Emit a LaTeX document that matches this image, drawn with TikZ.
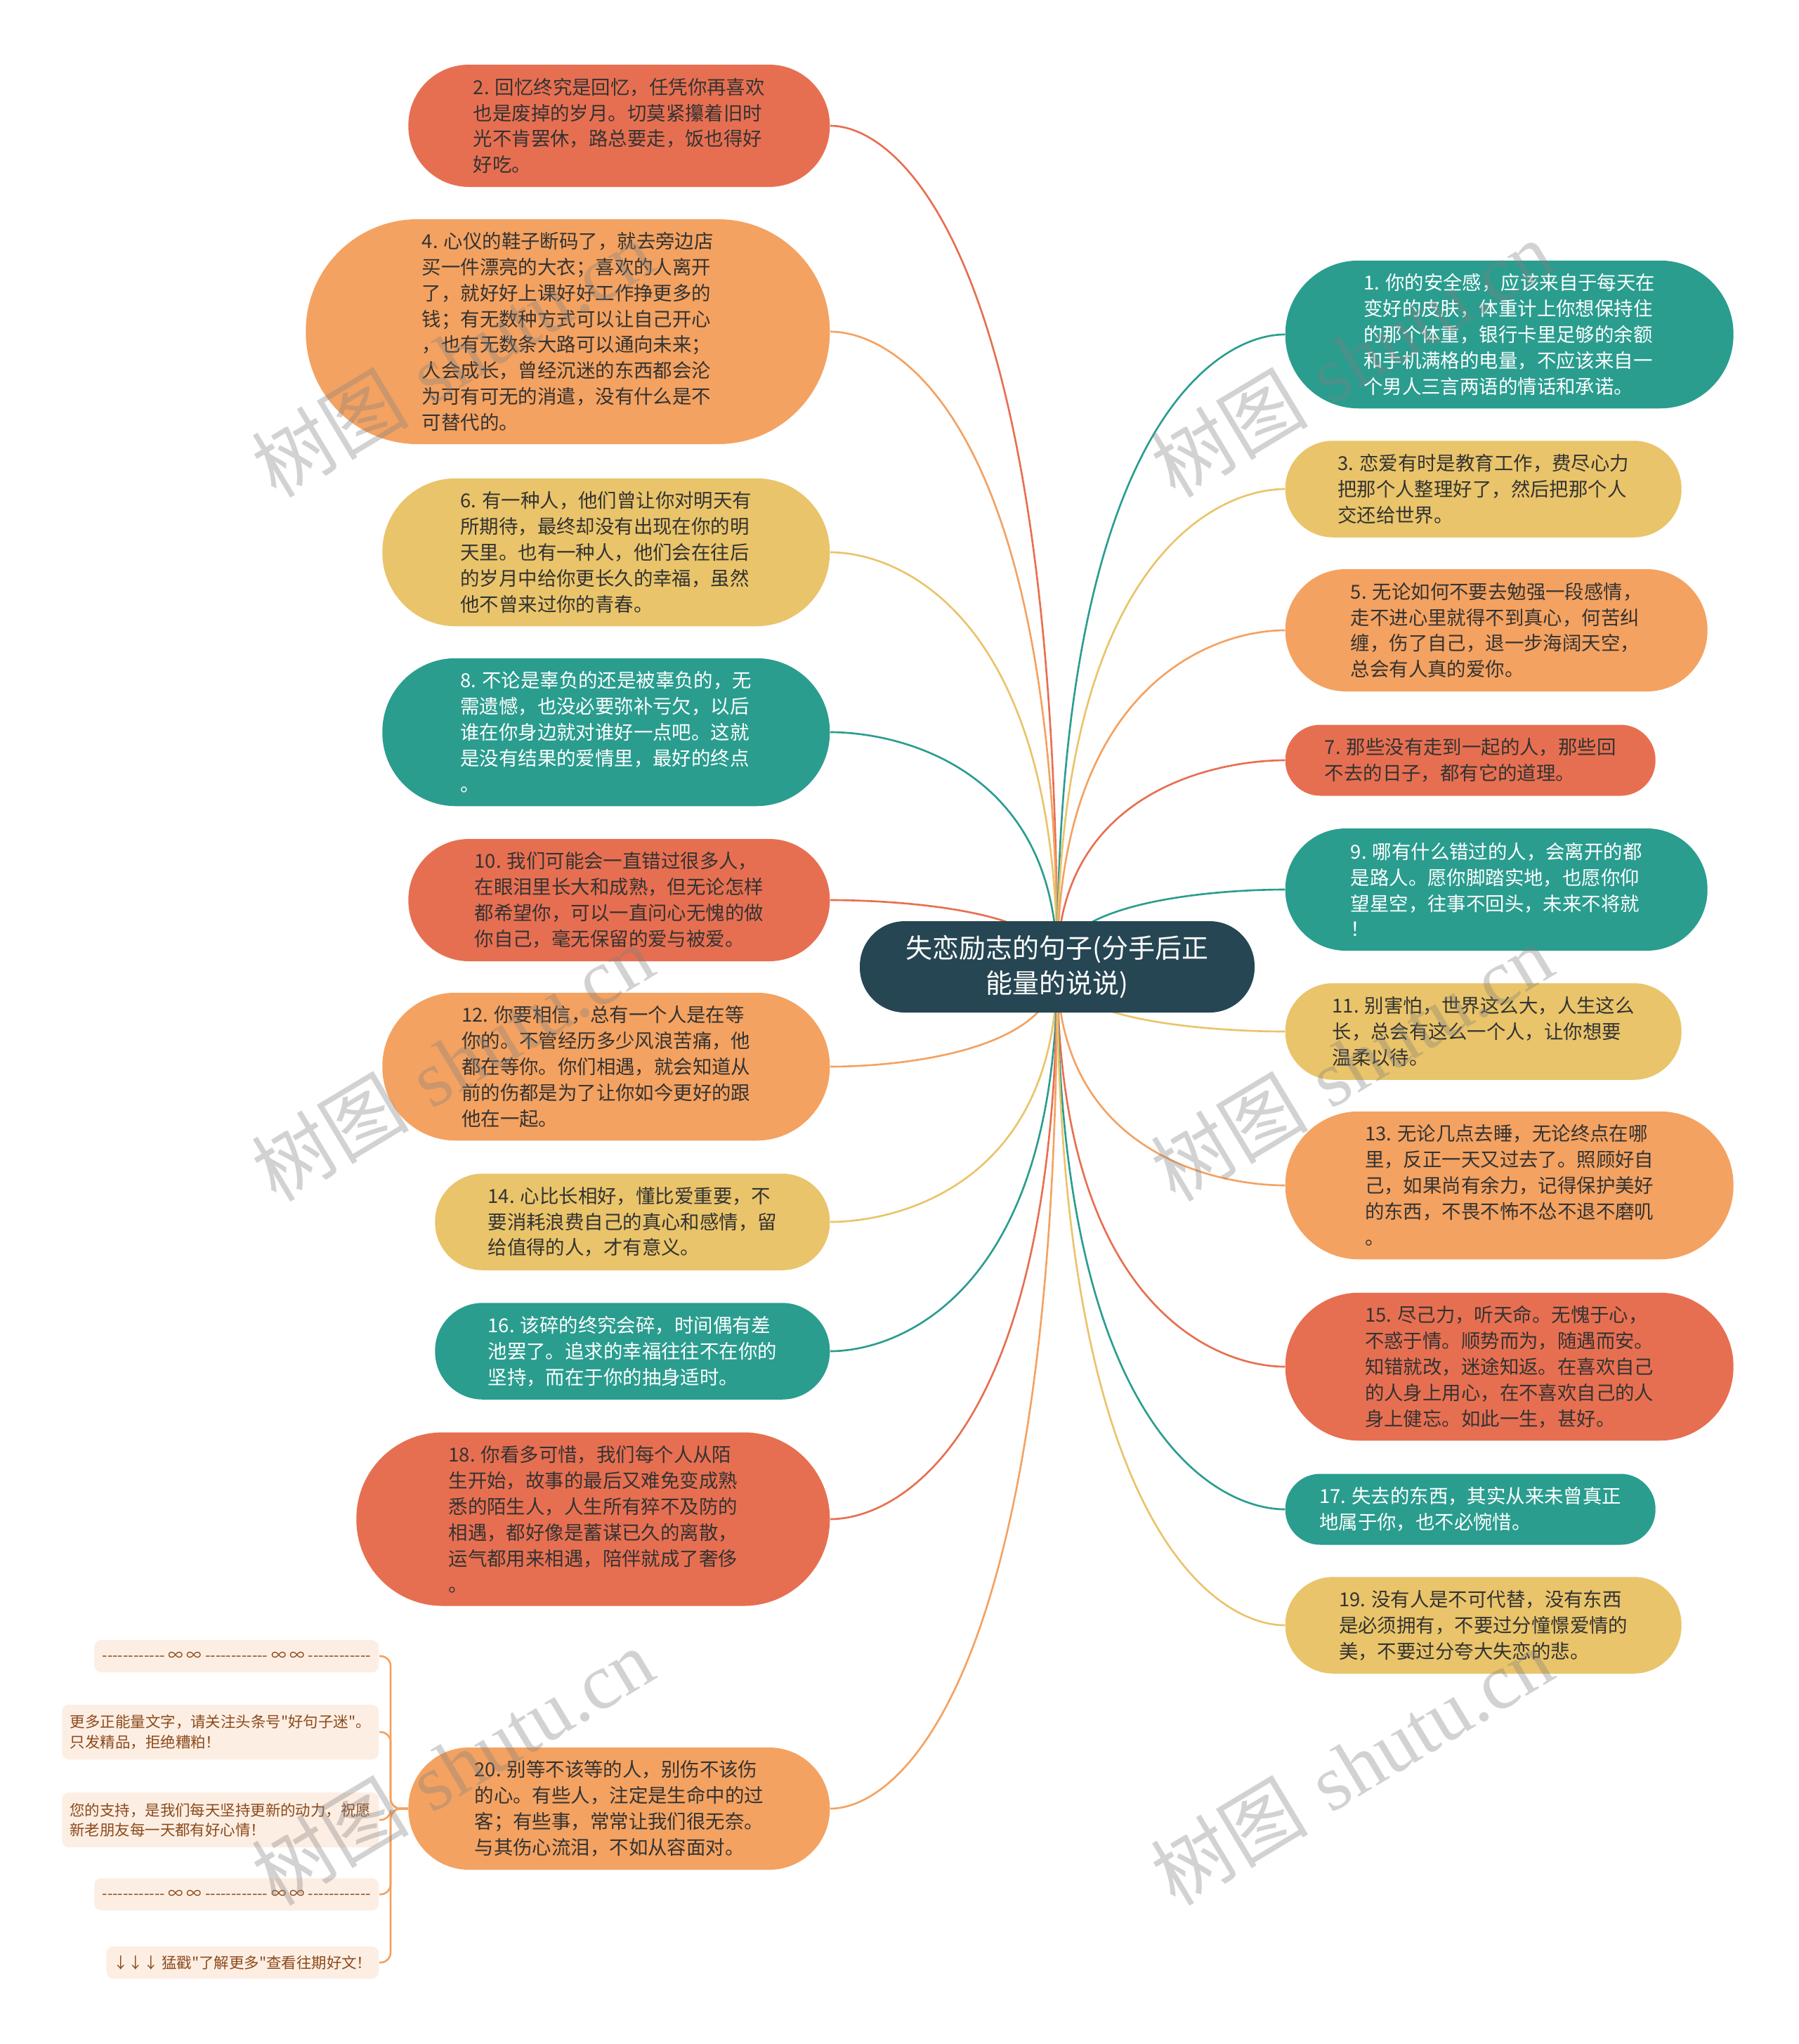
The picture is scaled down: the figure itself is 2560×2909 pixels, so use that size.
\documentclass[tikz,border=0pt]{standalone}
\usepackage{fontspec}
\newfontfamily\cjk{Noto Sans CJK SC}
\newfontfamily\wmlatin{Liberation Serif}
\usetikzlibrary{calc,backgrounds}

\definecolor{cRed}{HTML}{E76F51}
\definecolor{cOrange}{HTML}{F4A261}
\definecolor{cYellow}{HTML}{E9C46A}
\definecolor{cTeal}{HTML}{2A9D8F}
\definecolor{cRoot}{HTML}{264653}
\definecolor{ink}{HTML}{333333}
\definecolor{peach}{HTML}{FDEEE3}
\definecolor{umber}{HTML}{8B4A1C}

\begin{document}
\begin{tikzpicture}[x=0.1mm, y=-0.1mm,
    leaf/.style={font=\cjk\fontsize{7.8}{10.5}\selectfont, text=ink, align=left, inner sep=0pt},
    nlines/.style={minimum height={(#1*36.5+28)*0.1mm}, rounded corners={(#1*36.5+28)*0.05mm-0.2pt}},
    branch/.style={draw=#1, line width=0.75pt,
        to path={.. controls ($(\tikztostart)!0.3!(\tikztotarget |- \tikztostart)$)
                 and ($(\tikztotarget)!0.85!(\tikztotarget |- \tikztostart)$) .. (\tikztotarget)}},
    tip/.style={fill=peach, text=umber, font=\cjk\fontsize{6.1}{8}\selectfont, align=left,
        rounded corners=1mm, anchor=east, inner sep=0pt},
    twig/.style={draw=cOrange, line width=0.75pt, rounded corners=1.4mm},
    wmark/.style={font=\fontsize{32}{36}\selectfont, text=gray, text opacity=0.35, rotate=31}]
    \useasboundingbox (0,0) rectangle (2560,2909);

    % centre
    \node[fill=cRoot, text=white, font=\cjk\fontsize{10.8}{14.2}\selectfont, align=center,
        minimum width=56.2mm, minimum height=13mm, rounded corners=6.4mm] (root) at (1505,1376)
        {失恋励志的句子(分手后正\\能量的说说)};

    % left column
    \node[leaf, fill=cRed, nlines=4, minimum width=60mm, anchor=east] (n2) at (1182,179)
        {2. 回忆终究是回忆，任凭你再喜欢\\也是废掉的岁月。切莫紧攥着旧时\\光不肯罢休，路总要走，饭也得好\\好吃。};
    \node[leaf, fill=cOrange, nlines=8, minimum width=74.6mm, anchor=east] (n4) at (1182,472)
        {4. 心仪的鞋子断码了，就去旁边店\\买一件漂亮的大衣；喜欢的人离开\\了，就好好上课好好工作挣更多的\\钱；有无数种方式可以让自己开心\\，也有无数条大路可以通向未来；\\人会成长，曾经沉迷的东西都会沦\\为可有可无的消遣，没有什么是不\\可替代的。};
    \node[leaf, fill=cYellow, nlines=5, minimum width=63.7mm, anchor=east] (n6) at (1182,786)
        {6. 有一种人，他们曾让你对明天有\\所期待，最终却没有出现在你的明\\天里。也有一种人，他们会在往后\\的岁月中给你更长久的幸福，虽然\\他不曾来过你的青春。};
    \node[leaf, fill=cTeal, text=white, nlines=5, minimum width=63.7mm, anchor=east] (n8) at (1182,1042)
        {8. 不论是辜负的还是被辜负的，无\\需遗憾，也没必要弥补亏欠，以后\\谁在你身边就对谁好一点吧。这就\\是没有结果的爱情里，最好的终点\\。};
    \node[leaf, fill=cRed, nlines=4, minimum width=60mm, anchor=east] (n10) at (1182,1281)
        {10. 我们可能会一直错过很多人，\\在眼泪里长大和成熟，但无论怎样\\都希望你，可以一直问心无愧的做\\你自己，毫无保留的爱与被爱。};
    \node[leaf, fill=cOrange, nlines=5, minimum width=63.7mm, anchor=east] (n12) at (1182,1518)
        {12. 你要相信，总有一个人是在等\\你的。不管经历多少风浪苦痛，他\\都在等你。你们相遇，就会知道从\\前的伤都是为了让你如今更好的跟\\他在一起。};
    \node[leaf, fill=cYellow, nlines=3, minimum width=56.2mm, anchor=east] (n14) at (1182,1739)
        {14. 心比长相好，懂比爱重要，不\\要消耗浪费自己的真心和感情，留\\给值得的人，才有意义。};
    \node[leaf, fill=cTeal, text=white, nlines=3, minimum width=56.2mm, anchor=east] (n16) at (1182,1923)
        {16. 该碎的终究会碎，时间偶有差\\池罢了。追求的幸福往往不在你的\\坚持，而在于你的抽身适时。};
    \node[leaf, fill=cRed, nlines=6, minimum width=67.4mm, anchor=east] (n18) at (1182,2162)
        {18. 你看多可惜，我们每个人从陌\\生开始，故事的最后又难免变成熟\\悉的陌生人，人生所有猝不及防的\\相遇，都好像是蓄谋已久的离散，\\运气都用来相遇，陪伴就成了奢侈\\。};
    \node[leaf, fill=cOrange, nlines=4, minimum width=60mm, anchor=east] (n20) at (1182,2574)
        {20. 别等不该等的人，别伤不该伤\\的心。有些人，注定是生命中的过\\客；有些事，常常让我们很无奈。\\与其伤心流泪，不如从容面对。};

    % right column
    \node[leaf, fill=cTeal, text=white, nlines=5, minimum width=63.8mm, anchor=west] (n1) at (1829,476)
        {1. 你的安全感，应该来自于每天在\\变好的皮肤，体重计上你想保持住\\的那个体重，银行卡里足够的余额\\和手机满格的电量，不应该来自一\\个男人三言两语的情话和承诺。};
    \node[leaf, fill=cYellow, nlines=3, minimum width=56.4mm, anchor=west] (n3) at (1829,696)
        {3. 恋爱有时是教育工作，费尽心力\\把那个人整理好了，然后把那个人\\交还给世界。};
    \node[leaf, fill=cOrange, nlines=4, minimum width=60.1mm, anchor=west] (n5) at (1829,897)
        {5. 无论如何不要去勉强一段感情，\\走不进心里就得不到真心，何苦纠\\缠，伤了自己，退一步海阔天空，\\总会有人真的爱你。};
    \node[leaf, fill=cRed, nlines=2, minimum width=52.7mm, anchor=west] (n7) at (1829,1082)
        {7. 那些没有走到一起的人，那些回\\不去的日子，都有它的道理。};
    \node[leaf, fill=cTeal, text=white, nlines=4, minimum width=60.1mm, anchor=west] (n9) at (1829,1266)
        {9. 哪有什么错过的人，会离开的都\\是路人。愿你脚踏实地，也愿你仰\\望星空，往事不回头，未来不将就\\！};
    \node[leaf, fill=cYellow, nlines=3, minimum width=56.4mm, anchor=west] (n11) at (1829,1468)
        {11. 别害怕，世界这么大，人生这么\\长，总会有这么一个人，让你想要\\温柔以待。};
    \node[leaf, fill=cOrange, nlines=5, minimum width=63.8mm, anchor=west] (n13) at (1829,1687)
        {13. 无论几点去睡，无论终点在哪\\里，反正一天又过去了。照顾好自\\己，如果尚有余力，记得保护美好\\的东西，不畏不怖不怂不退不磨叽\\。};
    \node[leaf, fill=cRed, nlines=5, minimum width=63.8mm, anchor=west] (n15) at (1829,1945)
        {15. 尽己力，听天命。无愧于心，\\不惑于情。顺势而为，随遇而安。\\知错就改，迷途知返。在喜欢自己\\的人身上用心，在不喜欢自己的人\\身上健忘。如此一生，甚好。};
    \node[leaf, fill=cTeal, text=white, nlines=2, minimum width=52.7mm, anchor=west] (n17) at (1829,2148)
        {17. 失去的东西，其实从来未曾真正\\地属于你，也不必惋惜。};
    \node[leaf, fill=cYellow, nlines=3, minimum width=56.4mm, anchor=west] (n19) at (1829,2313)
        {19. 没有人是不可代替，没有东西\\是必须拥有，不要过分憧憬爱情的\\美，不要过分夸大失恋的悲。};

    % notes under 20
    \node[tip, minimum width=40.5mm, minimum height=4.6mm] (b1) at (540,2357)
        {------------ ∞ ∞ ------------ ∞ ∞ ------------};
    \node[tip, minimum width=45.1mm, minimum height=7.8mm] (b2) at (540,2465)
        {更多正能量文字，请关注头条号"好句子迷"。\\只发精品，拒绝糟粕！};
    \node[tip, minimum width=45.1mm, minimum height=7.8mm] (b3) at (540,2590)
        {您的支持，是我们每天坚持更新的动力，祝愿\\新老朋友每一天都有好心情！};
    \node[tip, minimum width=40.5mm, minimum height=4.6mm] (b4) at (540,2696)
        {------------ ∞ ∞ ------------ ∞ ∞ ------------};
    \node[tip, minimum width=38.8mm, minimum height=4.6mm] (b5) at (540,2793)
        {↓↓↓ 猛戳"了解更多"查看往期好文！};
    \coordinate (trunk) at (556,2574);

    \begin{scope}[on background layer]
        \fill[white] (0,0) rectangle (2560,2909);
        \foreach \nd/\cl in {n2/cRed, n4/cOrange, n6/cYellow, n8/cTeal, n10/cRed,
                n12/cOrange, n14/cYellow, n16/cTeal, n18/cRed, n20/cOrange}
            \draw[branch=\cl] (\nd.east) to (root.center);
        \foreach \nd/\cl in {n1/cTeal, n3/cYellow, n5/cOrange, n7/cRed, n9/cTeal,
                n11/cYellow, n13/cOrange, n15/cRed, n17/cTeal, n19/cYellow}
            \draw[branch=\cl] (\nd.west) to (root.center);
        \foreach \bx in {b1,b2,b3,b4,b5}
            \draw[twig] (n20.west) -- (trunk) |- (\bx.east);
    \end{scope}

    % watermark
    \foreach \wx in {644,1924}
        \foreach \wy in {510,1512,2514}
            \node[wmark] (wm\wx\wy) at (\wx,\wy) {{\cjk 树图} {\wmlatin shutu.cn}};
\end{tikzpicture}
\end{document}
